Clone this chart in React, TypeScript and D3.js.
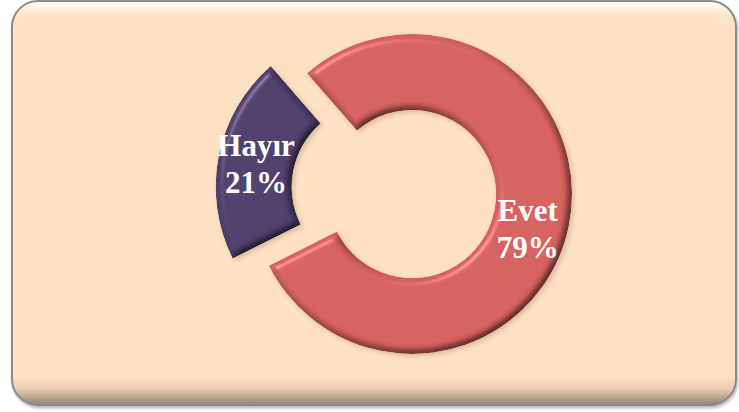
import React from "react";
import * as d3 from "d3";

const categories = ["Evet", "Hayır"];
const values = [79, 21];
const percentLabels = ["79%", "21%"];

const sliceColors = ["#D05F5C", "#4E3E6B"];
const W = 739;
const H = 412;
const cx = 412;
const cy = 194;
const innerR = 84;
const outerR = 160;
const startDeg = -41;
const explodedIndex = 1;
const explodeDist = 37;

export default function App() {
  React.useEffect(() => {
    document.body.style.margin = "0";
  }, []);

  const start = (startDeg * Math.PI) / 180;
  const pie = d3
    .pie<number>()
    .sort(null)
    .startAngle(start)
    .endAngle(start + 2 * Math.PI);
  const arcs = pie(values);
  const arcGen = d3.arc<d3.PieArcDatum<number>>().innerRadius(innerR).outerRadius(outerR);

  return (
    <svg width={W} height={H} style={{ display: "block", position: "absolute", left: 0, top: 0 }}>
      <defs>
        <linearGradient id="panelV" x1="0" y1="0" x2="0" y2="1">
          <stop offset="0" stopColor="#FFFDF8" />
          <stop offset="0.012" stopColor="#FFF4E6" />
          <stop offset="0.045" stopColor="#FDE1C2" />
          <stop offset="0.93" stopColor="#FDE1C2" />
          <stop offset="0.96" stopColor="#E9CDB0" />
          <stop offset="0.985" stopColor="#B49D88" />
          <stop offset="1" stopColor="#8E8680" />
        </linearGradient>
        <filter id="panelShadow" x="-5%" y="-5%" width="110%" height="115%">
          <feGaussianBlur in="SourceAlpha" stdDeviation="1.5" result="b" />
          <feOffset dx="1" dy="2" result="o" />
          <feFlood floodColor="#000" floodOpacity="0.3" />
          <feComposite in2="o" operator="in" result="s" />
          <feMerge>
            <feMergeNode in="s" />
            <feMergeNode in="SourceGraphic" />
          </feMerge>
        </filter>
        <filter id="bevel" x="-20%" y="-20%" width="140%" height="140%" colorInterpolationFilters="sRGB">
          <feGaussianBlur in="SourceAlpha" stdDeviation="3.5" result="blur" />
          <feDiffuseLighting in="blur" surfaceScale="6" diffuseConstant="1.3" lightingColor="#fff" result="diff">
            <feDistantLight azimuth="225" elevation="50" />
          </feDiffuseLighting>
          <feComposite in="SourceGraphic" in2="diff" operator="arithmetic" k1="0.5" k2="0.52" k3="0" k4="0" result="shaded" />
          <feSpecularLighting in="blur" surfaceScale="6" specularConstant="0.6" specularExponent="30" lightingColor="#fff" result="spec">
            <feDistantLight azimuth="225" elevation="40" />
          </feSpecularLighting>
          <feComposite in="spec" in2="SourceAlpha" operator="in" result="specIn" />
          <feComposite in="shaded" in2="specIn" operator="arithmetic" k1="0" k2="1" k3="0.4" k4="0" result="lit" />
          <feComposite in="lit" in2="SourceAlpha" operator="in" result="litIn" />
          <feGaussianBlur in="SourceAlpha" stdDeviation="2.5" result="sb" />
          <feOffset in="sb" dx="1.5" dy="2" result="so" />
          <feFlood floodColor="#5a2a20" floodOpacity="0.22" />
          <feComposite in2="so" operator="in" result="shadow" />
          <feMerge>
            <feMergeNode in="shadow" />
            <feMergeNode in="litIn" />
          </feMerge>
        </filter>
      </defs>

      <rect
        x={12}
        y={1}
        width={724}
        height={404}
        rx={26}
        ry={26}
        fill="url(#panelV)"
        stroke="#8A8A8A"
        strokeWidth={2}
        filter="url(#panelShadow)"
      />

      <g transform={`translate(${cx},${cy})`}>
        {arcs.map((a, i) => {
          const mid = (a.startAngle + a.endAngle) / 2;
          const off = i === explodedIndex ? explodeDist : 0;
          const dx = Math.sin(mid) * off;
          const dy = -Math.cos(mid) * off;
          return (
            <g key={categories[i]} transform={`translate(${dx},${dy})`}>
              <path d={arcGen(a) || ""} fill={sliceColors[i]} filter="url(#bevel)" />
            </g>
          );
        })}
        {arcs.map((a, i) => {
          const mid = (a.startAngle + a.endAngle) / 2;
          const off = i === explodedIndex ? explodeDist : 0;
          const [px, py] = arcGen.centroid(a);
          const x = px + Math.sin(mid) * off - (i === explodedIndex ? 0 : 4);
          const y = py - Math.cos(mid) * off + (i === explodedIndex ? 0 : 10);
          return (
            <text
              key={"t" + i}
              x={x}
              y={y}
              textAnchor="middle"
              fill="#FFFFFF"
              fontFamily="'Liberation Serif', 'Times New Roman', serif"
              fontWeight="bold"
              fontSize={31}
            >
              <tspan x={x} dy={-7}>
                {categories[i]}
              </tspan>
              <tspan x={x} dy={37}>
                {percentLabels[i]}
              </tspan>
            </text>
          );
        })}
      </g>
    </svg>
  );
}
